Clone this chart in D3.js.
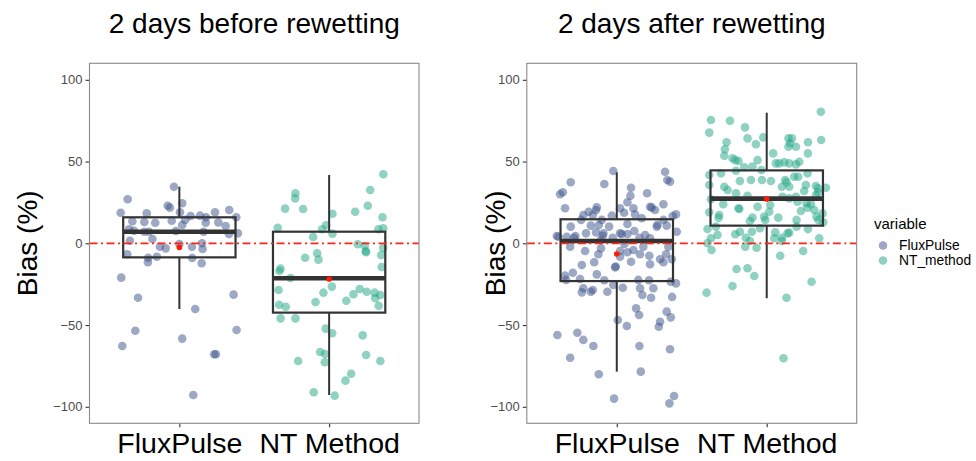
<!DOCTYPE html>
<html>
<head>
<meta charset="utf-8">
<script src="https://cdn.jsdelivr.net/npm/d3@7"></script>
<style>
  body { margin: 0; background: #fff; }
  svg { display: block; font-family: "Liberation Sans", Arial, Helvetica, sans-serif; }
</style>
</head>
<body>
<svg id="chart" width="976" height="461"></svg>
<script>
// ---- data ----
const categories = ["FluxPulse", "NT_method"];
const categoryLabels = ["FluxPulse", "NT Method"];
const panelTitles = ["2 days before rewetting", "2 days after rewetting"];
const yTicks = [-100, -50, 0, 50, 100];
const legendTitle = "variable";

// Each observation: [bias %, horizontal jitter in category-step units]
const beforeFlux = [
  [34.6,-0.036],[26.9,-0.345],[18.7,-0.392],[23.0,-0.078],[21.8,-0.063],[24.5,0.019],
  [18.3,-0.218],[13.5,-0.314],[13.0,-0.234],[12.6,-0.161],[13.8,-0.051],[19.0,0.004],
  [11.2,0.019],[14.3,0.039],[16.7,0.075],[16.9,0.138],[15.9,0.178],[19.0,0.238],
  [20.4,0.333],[15.9,0.38],[12.8,0.26],[12.6,0.176],[10.6,0.309],[6.1,0.391],
  [5.7,0.331],[7.1,0.162],[7.5,-0.023],[8.6,-0.336],[7.7,-0.303],[7.1,-0.234],
  [7.1,-0.203],[2.6,-0.18],[1.6,-0.33],[-2.1,-0.13],[-3.1,-0.091],[-0.4,0],
  [-2.1,0.084],[0,0.151],[-3.5,0.155],[-6.7,-0.348],[-8.8,-0.208],[-11.6,-0.21],
  [-8.2,-0.15],[-9.0,0.086],[-12.2,0.149],[-21.0,-0.388],[-33.3,-0.276],[-31.4,0.362],
  [-40.2,0.106],[-53.5,-0.294],[-53.0,0.382],[-62.8,-0.381],[-58.3,0.019],[-67.9,0.233],
  [-67.9,0.244],[-92.8,0.093]
];
const beforeNT = [
  [42.2,0.362],[32.6,0.274],[30.6,-0.225],[27.5,-0.227],[21.2,-0.294],[21.0,-0.174],
  [18.1,0.022],[19.3,0.174],[23.0,0.258],[15.9,0.356],[9.5,-0.343],[11.0,-0.02],
  [8.6,-0.047],[5.9,0.022],[3.9,-0.107],[8.6,0.329],[9.2,0.361],[-0.6,0.191],
  [-1.7,0.238],[-4.9,0.244],[-5.5,0.247],[-2.7,0.361],[-7.2,0.347],[-14.5,0.351],
  [-6.1,-0.08],[-10.0,-0.071],[-8.8,-0.16],[-15.5,-0.325],[-16.9,-0.332],[-21.2,-0.258],
  [-28.6,-0.338],[-26.5,0.018],[-30.2,-0.038],[-28.0,0.204],[-29.6,0.251],[-31.2,0.162],
  [-30.2,0.304],[-31.6,0.342],[-33.6,0.307],[-35.1,0.115],[-38.2,0.331],[-35.9,-0.091],
  [-37.6,-0.334],[-38.8,-0.29],[-45.9,-0.324],[-45.9,-0.225],[-52.2,-0.023],[-55.0,0.02],
  [-56.3,0.224],[-66.5,-0.06],[-67.7,-0.027],[-72.8,-0.029],[-72.0,-0.207],[-68.3,0.247],
  [-72.0,0.342],[-79.8,0.147],[-84.0,0.109],[-91.1,-0.103],[-93.2,0.037]
];
const afterFlux = [
  [44.2,-0.023],[43.8,0.322],[38.7,0.337],[37.7,0.355],[37.3,-0.307],[36.3,-0.083],
  [31.2,-0.36],[30.0,-0.378],[34.0,0.095],[29.1,0.091],[30.6,0.202],[25.1,0.071],
  [21.4,-0.345],[22.0,-0.133],[22.4,0.222],[21.8,0.233],[23.9,0.311],[21.4,0.022],
  [21.4,0.111],[19.3,-0.187],[20.4,-0.138],[17.3,-0.223],[17.3,-0.16],[18.7,0.049],
  [17.7,0.122],[16.9,-0.033],[15.3,0.167],[20.4,0.255],[17.7,0.395],[16.7,0.373],
  [14.3,-0.238],[14.3,-0.1],[11.8,0.071],[14.3,0.311],[10.2,0.267],[11.2,0.271],
  [10.8,0.333],[10.2,-0.307],[10.8,-0.173],[11.2,-0.12],[10.2,-0.051],[6.1,-0.205],
  [6.7,-0.138],[6.1,-0.089],[4.6,-0.093],[6.1,0.022],[5.7,0.033],[5.7,0.071],
  [7.5,0.117],[5.1,0.189],[3.1,0.222],[4.5,-0.4],[4.0,-0.389],[4.0,-0.333],
  [4.5,-0.276],[3.4,-0.285],[3.4,-0.027],[3.4,0.151],[7.1,0.4],[2.0,-0.107],
  [-2.1,-0.311],[-3.1,-0.105],[-0.4,0.051],[-4.1,0.111],[-2.1,0.177],[-2.1,0.344],
  [-4.7,-0.211],[-6.7,-0.123],[-4.7,0.022],[-5.5,0.071],[-6.7,0.155],[-7.6,0.217],
  [-6.7,0.329],[-9.8,0.367],[-8.2,0.022],[-11.3,0.095],[-11.6,-0.151],[-12.8,0.222],
  [-9.8,0.289],[-11.6,0.311],[-13.3,-0.233],[-14.7,-0.011],[-14.2,-0.007],[-18.0,-0.293],
  [-19.0,-0.133],[-19.8,-0.345],[-22.4,-0.338],[-22.6,-0.083],[-21.8,-0.245],[-22.4,0.144],
  [-22.6,0.215],[-23.5,0.36],[-24.5,0.395],[-25.5,-0.023],[-27.5,-0.223],[-28.6,-0.16],
  [-27.5,0.155],[-27.5,0.244],[-30.0,-0.233],[-29.6,-0.173],[-29.6,-0.063],[-27.2,0.04],
  [-31.6,0.171],[-33.3,0.229],[-32.8,0.369],[-39.8,0.129],[-43.9,0.149],[-41.8,0.333],
  [-45.3,0.36],[-48.0,0.289],[-51.0,0.28],[-46.9,0.007],[-50.6,0.067],[-56.1,-0.396],
  [-54.7,-0.263],[-59.1,-0.223],[-62.8,-0.156],[-62.8,0.151],[-64.8,0.355],[-70.0,-0.311],
  [-80.1,-0.12],[-78.5,0.16],[-95.0,-0.018],[-93.4,0.382],[-97.9,0.351]
];
const afterNT = [
  [80.5,0.361],[75.4,-0.372],[75.0,-0.245],[67.7,-0.383],[70.9,-0.145],[64.2,-0.128],
  [64.8,-0.023],[60.6,-0.072],[61.8,-0.268],[57.5,-0.279],[53.6,-0.283],[52.0,-0.228],
  [50.9,-0.21],[50.3,-0.188],[64.2,0.145],[64.2,0.168],[61.2,0.155],[59.1,0.145],
  [59.1,0.195],[61.8,0.275],[63.2,0.363],[55.0,0.275],[55.0,0.043],[50.9,-0.061],
  [46.9,-0.095],[46.5,-0.15],[48.9,0.061],[48.9,0.083],[49.5,0.117],[48.9,0.15],
  [48.3,0.195],[49.9,0.217],[44.8,-0.035],[44.4,-0.205],[41.8,-0.383],[42.8,-0.305],
  [35.7,-0.383],[38.1,-0.179],[38.7,-0.105],[38.7,-0.032],[38.1,0.028],[38.7,0.123],
  [37.3,0.132],[40.7,0.183],[40.7,0.21],[42.8,0.272],[35.7,0.261],[35.0,0.328],
  [33.6,0.343],[34.0,0.395],[34.6,0.101],[34.6,0.15],[34.6,-0.283],[32.6,-0.261],
  [30.6,-0.205],[29.1,-0.128],[26.9,-0.372],[23.9,-0.29],[21.4,-0.188],[22.4,-0.061],
  [23.4,0.023],[28.5,0.105],[28.5,0.195],[32.0,0.25],[25.4,0.205],[24.5,0.265],
  [23.9,0.295],[29.5,0.328],[31.2,0.343],[21.0,-0.183],[19.3,0.017],[19.8,0.228],
  [21.8,0.272],[20.4,0.317],[18.3,0.372],[19.0,-0.383],[17.3,-0.317],[15.7,-0.321],
  [15.7,-0.095],[13.6,-0.112],[16.3,-0.017],[14.3,-0.01],[15.7,0.077],[14.3,0.199],
  [16.3,0.332],[14.3,0.345],[12.8,0.377],[8.7,-0.395],[10.2,-0.339],[5.5,-0.21],
  [7.1,-0.179],[3.4,-0.139],[7.1,-0.099],[9.2,-0.045],[1.4,-0.112],[6.7,0.057],
  [3.1,0.05],[3.4,0.101],[1.4,0.101],[6.1,0.139],[10.2,0.199],[8.7,0.275],
  [3.1,0.35],[5.1,-0.328],[3.1,-0.372],[0.0,-0.395],[-4.1,-0.368],[-2.1,-0.143],
  [-2.7,-0.068],[-7.6,0.09],[-4.7,0.243],[-15.7,-0.201],[-15.3,-0.128],[-20.0,-0.083],
  [-26.1,-0.228],[-23.5,0.299],[-30.2,-0.401],[-33.3,0.132],[-70.3,0.112],
  [6.5,0.15],[27.5,0.15]
];

// Box-plot summaries per panel: [whisker low, Q1, median, Q3, whisker high, mean]
const beforeFluxBox = [-40.2, -8.6, 7.1, 15.9, 34.6, -2.5];
const beforeNTBox   = [-92.8, -42.4, -21.4, 7.1, 41.8, -21.8];
const afterFluxBox  = [-78.5, -23.1, 1.4, 14.7, 43.4, -6.5];
const afterNTBox    = [-33.6, 10.8, 27.3, 44.6, 79.9, 27.1];

const seriesColors = ["#3B528B", "#21A685"];

// ---- layout ----
const svg = d3.select("#chart");
const plotTop = 63.3, plotBottom = 423.3;
const panels = [
  { title: panelTitles[0], left: 89.5, right: 419, yTitleX: 37,
    points: [beforeFlux, beforeNT], boxes: [beforeFluxBox, beforeNTBox] },
  { title: panelTitles[1], left: 526.8, right: 856.7, yTitleX: 505,
    points: [afterFlux, afterNT], boxes: [afterFluxBox, afterNTBox] }
];

const y = d3.scaleLinear().domain([-110.1, 110.1]).range([plotBottom, plotTop]);

panels.forEach(p => {
  const x = d3.scalePoint().domain(categories).range([p.left, p.right]).padding(0.6);
  const step = x.step();
  const g = svg.append("g");

  // title
  g.append("text")
    .attr("x", (p.left + p.right) / 2).attr("y", 33)
    .attr("text-anchor", "middle")
    .attr("font-size", 28).attr("fill", "#000")
    .text(p.title);

  // y axis title
  g.append("text")
    .attr("transform", `translate(${p.yTitleX},${(plotTop + plotBottom) / 2}) rotate(-90)`)
    .attr("text-anchor", "middle")
    .attr("font-size", 28).attr("fill", "#000")
    .text("Bias (%)");

  // y axis
  const ya = g.append("g").attr("transform", `translate(${p.left},0)`)
    .call(d3.axisLeft(y).tickValues(yTicks).tickSize(4).tickPadding(3));
  ya.select(".domain").remove();
  ya.selectAll(".tick line").attr("stroke", "#333").attr("stroke-width", 1.1);
  ya.selectAll(".tick text").attr("font-size", 13).attr("fill", "#4d4d4d")
    .attr("font-family", "Liberation Sans, Arial, sans-serif");

  // x axis
  const xa = g.append("g").attr("transform", `translate(0,${plotBottom})`)
    .call(d3.axisBottom(x).tickSize(4).tickPadding(5)
      .tickFormat((d, i) => categoryLabels[i]));
  xa.select(".domain").remove();
  xa.selectAll(".tick line").attr("stroke", "#333").attr("stroke-width", 1.1);
  xa.selectAll(".tick text").attr("font-size", 28.5).attr("fill", "#000")
    .attr("font-family", "Liberation Sans, Arial, sans-serif");

  // jittered points
  p.points.forEach((pts, si) => {
    g.append("g").selectAll("circle").data(pts).join("circle")
      .attr("cx", d => x(categories[si]) + d[1] * step)
      .attr("cy", d => y(d[0]))
      .attr("r", 4.3)
      .attr("fill", seriesColors[si])
      .attr("fill-opacity", 0.5);
  });

  // box plots
  p.boxes.forEach((b, si) => {
    const cx = x(categories[si]);
    const half = step * 0.375;
    const bg = g.append("g").attr("stroke", "#333").attr("fill", "none");
    bg.append("line").attr("x1", cx).attr("x2", cx)
      .attr("y1", y(b[4])).attr("y2", y(b[3])).attr("stroke-width", 2);
    bg.append("line").attr("x1", cx).attr("x2", cx)
      .attr("y1", y(b[1])).attr("y2", y(b[0])).attr("stroke-width", 2);
    bg.append("rect")
      .attr("x", cx - half).attr("width", half * 2)
      .attr("y", y(b[3])).attr("height", y(b[1]) - y(b[3]))
      .attr("stroke-width", 2.2);
    bg.append("line").attr("x1", cx - half).attr("x2", cx + half)
      .attr("y1", y(b[2])).attr("y2", y(b[2])).attr("stroke-width", 4.6);
    g.append("circle").attr("cx", cx).attr("cy", y(b[5]))
      .attr("r", 2.8).attr("fill", "#ff1a00");
  });

  // zero reference line
  g.append("line")
    .attr("x1", p.left).attr("x2", p.right)
    .attr("y1", y(0)).attr("y2", y(0))
    .attr("stroke", "#ff2414").attr("stroke-width", 1.8)
    .attr("stroke-dasharray", "8,3.5,2,3.5");

  // panel border
  g.append("rect")
    .attr("x", p.left).attr("y", plotTop)
    .attr("width", p.right - p.left).attr("height", plotBottom - plotTop)
    .attr("fill", "none").attr("stroke", "#8a8a8a").attr("stroke-width", 1.1);
});

// ---- legend ----
const lg = svg.append("g");
lg.append("text").attr("x", 874).attr("y", 229)
  .attr("font-size", 15).attr("fill", "#000").text(legendTitle);
categories.forEach((c, i) => {
  const cy = 245.5 + i * 15;
  lg.append("circle").attr("cx", 883).attr("cy", cy).attr("r", 4.3)
    .attr("fill", seriesColors[i]).attr("fill-opacity", 0.5);
  lg.append("text").attr("x", 899).attr("y", cy).attr("dy", "0.35em")
    .attr("font-size", 13.8).attr("fill", "#000").text(c);
});
</script>
</body>
</html>
